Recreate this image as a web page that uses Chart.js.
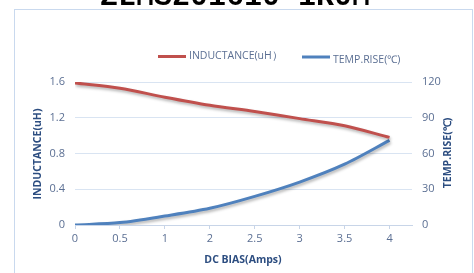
<!DOCTYPE html>
<html>
<head>
<meta charset="utf-8">
<script src="https://cdn.jsdelivr.net/npm/chart.js@4"></script>
<style>
  html, body { margin: 0; padding: 0; background: #fff; }
  #wrap { width: 474px; height: 273px; position: relative; }
</style>
</head>
<body>
<div id="wrap"><canvas id="chart" width="474" height="273"></canvas></div>
<script>
var dcBias = ["0", "0.5", "1", "2", "2.5", "3", "3.5", "4"];
var inductance = [1.59, 1.53, 1.43, 1.34, 1.27, 1.19, 1.11, 0.98];
var tempRise = [0, 2, 7.5, 14, 24, 36, 51, 71];
var leftTicks = [0, 0.4, 0.8, 1.2, 1.6];
var rightTicks = [0, 30, 60, 90, 120];

var tickColor = "#5b6f93";
var titleColor = "#2c4d80";
var font = "'Open Sans', sans-serif";

function pts(arr) {
  var out = [];
  for (var i = 0; i < arr.length; i++) out.push({x: i, y: arr[i]});
  return out;
}

var decor = {
  id: 'decor',
  beforeDatasetsDraw: function(chart) {
    var c = chart.ctx;
    c.save();
    c.shadowColor = "rgba(0,0,0,0.3)";
    c.shadowBlur = 3;
    c.shadowOffsetX = 1;
    c.shadowOffsetY = 2;
  },
  afterDatasetsDraw: function(chart) {
    chart.ctx.restore();
  },
  afterDraw: function(chart) {
    var c = chart.ctx;
    c.save();
    // outer box
    c.strokeStyle = "#c9d9ee";
    c.lineWidth = 1;
    c.strokeRect(14.5, 9.5, 458, 280);
    // cropped title
    c.fillStyle = "#000";
    c.font = "bold 30px 'Liberation Mono', monospace";
    c.textAlign = "center";
    c.textBaseline = "alphabetic";
    c.fillText("ZLMS201610-1R0M", 235, 5);
    // legend
    c.lineWidth = 3;
    c.strokeStyle = "#c0504d";
    c.beginPath(); c.moveTo(158, 56.5); c.lineTo(186, 56.5); c.stroke();
    c.strokeStyle = "#4f81bd";
    c.beginPath(); c.moveTo(302, 57); c.lineTo(330, 57); c.stroke();
    c.fillStyle = tickColor;
    c.font = "10.5px " + font;
    c.textAlign = "left";
    c.textBaseline = "middle";
    c.fillText("INDUCTANCE(uH）", 189, 56);
    c.fillText("TEMP.RISE(℃)", 333, 60);
    // axis titles
    c.fillStyle = titleColor;
    c.font = "bold 10.5px " + font;
    c.textAlign = "center";
    c.fillText("DC BIAS(Amps)", 243, 260);
    c.save();
    c.translate(38, 154);
    c.rotate(-Math.PI / 2);
    c.fillText("INDUCTANCE(uH)", 0, 0);
    c.restore();
    c.save();
    c.translate(448, 153);
    c.rotate(-Math.PI / 2);
    c.fillText("TEMP.RISE(℃)", 0, 0);
    c.restore();
    c.restore();
  }
};

var ctx = document.getElementById("chart").getContext('2d');
var chart = new Chart(ctx, {
  type: 'line',
  data: {
    datasets: [{
      label: 'INDUCTANCE(uH）',
      data: pts(inductance),
      borderColor: "#c0504d",
      borderWidth: 3,
      pointRadius: 0,
      tension: 0.3,
      yAxisID: 'y'
    }, {
      label: 'TEMP.RISE(℃)',
      data: pts(tempRise),
      borderColor: "#4f81bd",
      borderWidth: 3,
      pointRadius: 0,
      tension: 0.3,
      yAxisID: 'y2'
    }]
  },
  options: {
    responsive: false,
    animation: false,
    layout: { padding: { top: 82, bottom: 0, left: 0, right: 0 } },
    plugins: { legend: { display: false }, tooltip: { enabled: false } },
    scales: {
      x: {
        type: 'linear',
        min: 0,
        max: 7.5,
        afterFit: function(s) { s.height = 48; },
        afterBuildTicks: function(s) {
          s.ticks = dcBias.map(function(l, i) { return {value: i}; });
        },
        ticks: {
          color: tickColor,
          font: { family: font, size: 11 },
          padding: 3,
          maxRotation: 0,
          callback: function(v) { return dcBias[v]; }
        },
        grid: { display: true, drawOnChartArea: false, tickLength: 4, color: "#c8d5e8" },
        border: { color: "#c8d5e8" }
      },
      y: {
        position: 'left',
        min: 0,
        max: 1.6,
        afterFit: function(s) { s.width = 75; },
        afterBuildTicks: function(s) {
          s.ticks = leftTicks.map(function(v) { return {value: v}; });
        },
        ticks: { color: tickColor, font: { family: font, size: 11 }, padding: 10 },
        grid: { color: "#d9e4f2", drawTicks: false },
        border: { display: false }
      },
      y2: {
        position: 'right',
        min: 0,
        max: 120,
        afterFit: function(s) { s.width = 62; },
        afterBuildTicks: function(s) {
          s.ticks = rightTicks.map(function(v) { return {value: v}; });
        },
        ticks: { color: tickColor, font: { family: font, size: 11 }, padding: 10 },
        grid: { drawOnChartArea: false, drawTicks: false },
        border: { display: false }
      }
    }
  },
  plugins: [decor]
});
</script>
</body>
</html>
